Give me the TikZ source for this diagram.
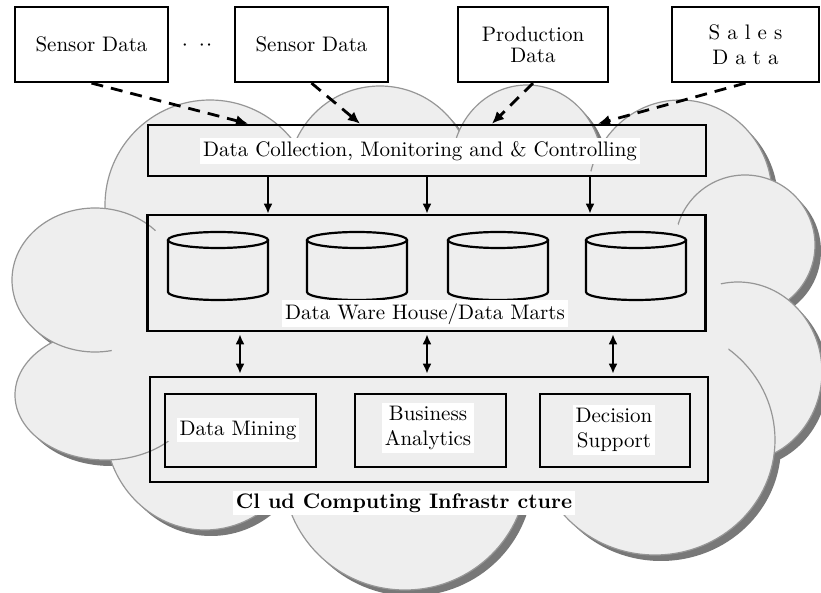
\documentclass[tikz,border=0pt]{standalone}
\usepackage{tikz}
\usetikzlibrary{calc,arrows.meta}
\definecolor{cloudfill}{RGB}{238,238,238}
\definecolor{cloudline}{RGB}{150,150,150}
\definecolor{cloudshade}{RGB}{120,120,120}

\begin{document}
\begin{tikzpicture}[x=0.5pt,y=-0.5pt,font=\fontsize{10.5}{12.6}\selectfont,
  srcbox/.style={draw,line width=1.1pt,fill=white,minimum width=76.5pt,minimum height=37.5pt,align=center,inner sep=2pt},
  layerbox/.style={draw,line width=1.3pt,minimum width=279pt},
  toolbox/.style={draw,line width=1.3pt,minimum width=75.5pt,minimum height=36.5pt},
  tag/.style={fill=white,inner sep=1.5pt,align=center},
  feed/.style={dash pattern=on 6pt off 4pt,line width=1.4pt,-{Latex[length=6pt,width=5.5pt]}},
  flow/.style={line width=1pt,-{Latex[length=5pt,width=4.5pt]}},
  twoway/.style={line width=1pt,{Latex[length=5pt,width=4.5pt]}-{Latex[length=5pt,width=4.5pt]},shorten <=1pt,shorten >=1pt}]
  \useasboundingbox (0,0) rectangle (821,593);

  %% The cloud: shadow, puffs, then the middle
  \foreach \cx/\cy/\rx/\ry in {210/205/105/105,380/178/92/92,527/165/75/80,680/195/92/95,745/245/70/70,738/372/84/90,655/440/120/115,405/470/122/120,205/425/100/105,105/395/90/65,95/280/83/72}
    \fill[cloudshade] (\cx+6,\cy+6) ellipse ({\rx} and {\ry});
  \foreach \cx/\cy/\rx/\ry in {210/205/105/105,380/178/92/92,527/165/75/80,680/195/92/95,745/245/70/70,738/372/84/90,655/440/120/115,405/470/122/120,205/425/100/105,105/395/90/65,95/280/83/72}
    \draw[cloudline,fill=cloudfill,line width=0.6pt] (\cx,\cy) ellipse ({\rx} and {\ry});
  \fill[cloudfill] (420,330) ellipse (310 and 190);

  %% Data sources
  \node[srcbox] (SENS1) at (91.5,44.5) {Sensor Data};
  \node (DOTS) at (197,46) {$\cdot\;\cdot\!\cdot$};
  \node[srcbox] (SENS2) at (311.5,44.5) {Sensor Data};
  \node[srcbox,minimum width=75pt] (PROD) at (533,44.5) {Production\\[-2pt]Data};
  \node[srcbox,minimum width=73.5pt] (SALES) at (745.5,44.5) {S a l e s\\D a t a};

  %% Layers
  \node[layerbox,minimum height=25.5pt] (DCMC) at (427,150.5) {};
  \node[tag] (DCMCTXT) at (420,151) {Data Collection, Monitoring and \& Controlling};

  \node[layerbox,minimum height=58pt] (DWH) at (426.5,273) {};
  \foreach \cx in {218,357,498,636}
  {
    \draw[line width=1.1pt] (\cx-50,240) -- (\cx-50,292) arc (180:0:50 and 8) -- (\cx+50,240);
    \draw[line width=1.1pt] (\cx,240) ellipse (50 and 8);
  }
  \node[tag] (DWHTXT) at (425,314) {Data Ware House/Data Marts};

  \node[layerbox,minimum height=52.5pt] (INFRA) at (429,429.5) {};
  \node[toolbox] (MINING) at (240.5,430.5) {};
  \node[toolbox] (BIZ) at (430.5,430.5) {};
  \node[toolbox,minimum width=75pt] (DSS) at (615,430.5) {};
  \node[tag] (MININGTXT) at (238,430) {Data Mining};
  \node[tag] (BIZTXT) at (428,428) {Business\\Analytics};
  \node[tag] (DSSTXT) at (614,430) {Decision\\Support};
  \node[tag,font=\fontsize{10.5}{12.6}\selectfont\bfseries] (CLOUDTXT) at (404,503) {Cl ud Computing Infrastr cture};

  %% Feeds into the collection layer
  \foreach \src/\x [count=\i] in {SENS1/248,SENS2/360,PROD/492,SALES/598}
  {
    \coordinate (F\i) at (\x,0);
    \draw[feed] (\src.south) -- (DCMC.north -| F\i);
  }

  %% Collection to warehouse
  \foreach \x [count=\i] in {268,427,590}
  {
    \coordinate (D\i) at (\x,0);
    \draw[flow] (DCMC.south -| D\i) -- (DWH.north -| D\i);
  }

  %% Warehouse to analysis tools
  \foreach \x [count=\i] in {240,427,613}
  {
    \coordinate (B\i) at (\x,0);
    \draw[twoway] (DWH.south -| B\i) -- (INFRA.north -| B\i);
  }
\end{tikzpicture}
\end{document}
